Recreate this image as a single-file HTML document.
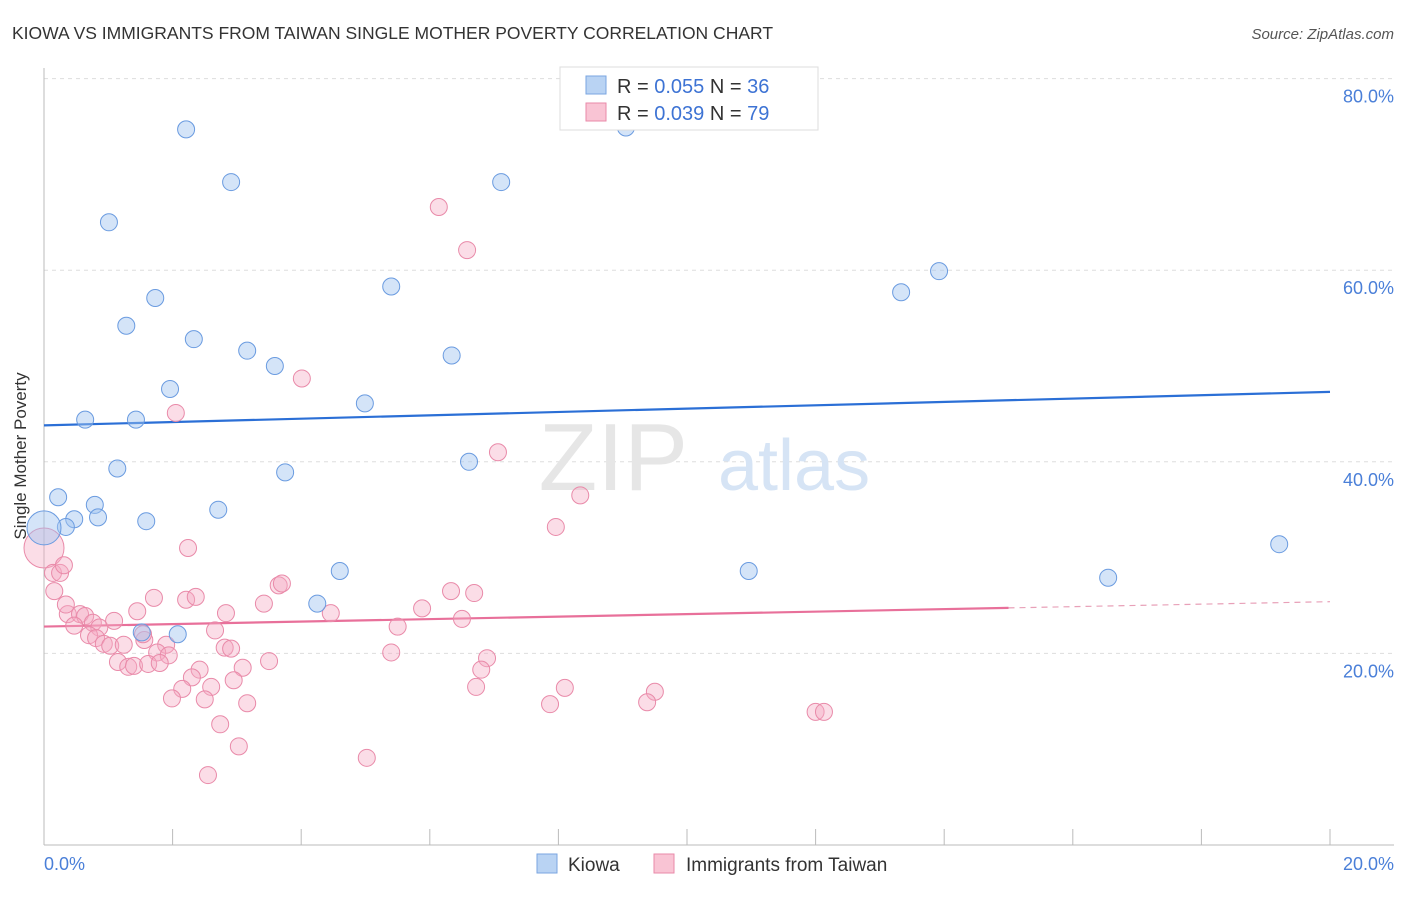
<!DOCTYPE html>
<html><head><meta charset="utf-8"><style>
body{margin:0;background:#fff;font-family:"Liberation Sans",sans-serif;}
svg text{font-family:"Liberation Sans",sans-serif;}
</style></head><body>
<svg width="1406" height="892" xmlns="http://www.w3.org/2000/svg">
<text x="12" y="39" font-size="17.5" fill="#333">KIOWA VS IMMIGRANTS FROM TAIWAN SINGLE MOTHER POVERTY CORRELATION CHART</text>
<text x="1394" y="39" font-size="15" fill="#555" font-style="italic" text-anchor="end">Source: ZipAtlas.com</text>
<g id="grid"></g>
<text x="688" y="490" font-size="96" fill="#e6e6e6" text-anchor="end" font-family="Liberation Serif">ZIP</text>
<text x="718" y="490" font-size="72" fill="#d6e4f5">atlas</text>
<g id="axes"></g>
<g id="trend"></g>
<g id="pts"></g>
<text x="26" y="456" font-size="17" fill="#333" text-anchor="middle" transform="rotate(-90 26 456)">Single Mother Poverty</text>
<text x="44" y="870" font-size="18" fill="#4a7fd8">0.0%</text>
<text x="1394" y="870" font-size="18" fill="#4a7fd8" text-anchor="end">20.0%</text>
<g>
<rect x="560" y="67" width="258" height="63" fill="#fff" stroke="#ddd"/>
<rect x="586" y="76" width="20" height="18" fill="#b9d3f3" stroke="#7aa6e0"/>
<rect x="586" y="103" width="20" height="18" fill="#f9c4d4" stroke="#e98aa9"/>
<text x="617" y="93" font-size="20" fill="#333">R = <tspan fill="#3d73d4">0.055</tspan>   N = <tspan fill="#3d73d4">36</tspan></text>
<text x="617" y="120" font-size="20" fill="#333">R = <tspan fill="#3d73d4">0.039</tspan>   N = <tspan fill="#3d73d4">79</tspan></text>
</g>
<g>
<rect x="537" y="854" width="20" height="19" fill="#b9d3f3" stroke="#7aa6e0"/>
<text x="568" y="871" font-size="19" fill="#333">Kiowa</text>
<rect x="654" y="854" width="20" height="19" fill="#f9c4d4" stroke="#e98aa9"/>
<text x="686" y="871" font-size="19" fill="#333">Immigrants from Taiwan</text>
</g>
</svg>
<script>
const yTicks=[20,40,60,80];
const yTickLabels=["20.0%","40.0%","60.0%","80.0%"];
const xTicks=[2,4,6,8,10,12,14,16,18,20];
const kiowaX=[2.21,2.91,1.01,1.73,1.28,2.33,3.16,3.59,1.96,0.64,1.43,4.99,5.40,6.34,7.11,9.05,6.61,3.75,1.14,0.22,0.79,0.84,0.47,0.34,1.59,2.71,0,4.60,4.25,2.08,1.52,10.96,13.33,13.92,16.55,19.21];
const kiowaY=[74.7,69.2,65.0,57.1,54.2,52.8,51.6,50.0,47.6,44.4,44.4,46.1,58.3,51.1,69.2,74.9,40.0,38.9,39.3,36.3,35.5,34.2,34.0,33.2,33.8,35.0,33.1,28.6,25.2,22.0,22.2,28.6,57.7,59.9,27.9,31.4];
const taiwanX=[6.14,6.58,4.01,2.05,7.06,8.34,7.96,2.24,0,0.14,0.25,0.31,0.16,3.65,3.42,1.71,2.21,2.36,6.33,6.69,5.88,4.46,6.50,5.50,2.83,1.45,0.37,0.56,0.64,0.47,0.76,0.86,1.09,0.70,0.81,0.93,1.03,1.24,1.56,1.90,1.76,1.94,2.66,2.81,2.91,5.40,6.89,1.15,1.31,1.40,1.62,1.80,2.42,3.09,3.50,6.80,2.30,2.95,2.15,2.60,6.72,8.10,9.50,1.99,2.50,3.16,7.87,9.38,12.0,12.13,2.74,3.03,5.02,2.55,0.34,1.54,3.70];
const taiwanY=[66.6,62.1,48.7,45.1,41.0,36.5,33.2,31.0,31.0,28.4,28.4,29.2,26.5,27.1,25.2,25.8,25.6,25.9,26.5,26.3,24.7,24.2,23.6,22.8,24.2,24.4,24.1,24.1,23.9,22.9,23.2,22.7,23.4,21.9,21.6,21.0,20.8,20.9,21.4,20.9,20.1,19.8,22.4,20.6,20.5,20.1,19.5,19.1,18.6,18.7,18.9,19.0,18.3,18.5,19.2,18.3,17.5,17.2,16.3,16.5,16.5,16.4,16.0,15.3,15.2,14.8,14.7,14.9,13.9,13.9,12.6,10.3,9.1,7.3,25.1,22.0,27.3];
const kiowaTrend=[43.8,47.3];
const taiwanTrend=[22.8,25.4];
const taiwanSolidEnd=15.0;
const NS="http://www.w3.org/2000/svg";
const X=v=>44+v*64.3;
const Y=v=>845-v*9.58;
function mk(tag,attrs,parent){const e=document.createElementNS(NS,tag);for(const k in attrs)e.setAttribute(k,attrs[k]);parent.appendChild(e);return e;}
const grid=document.getElementById('grid'),axes=document.getElementById('axes'),trend=document.getElementById('trend'),pts=document.getElementById('pts');
yTicks.forEach((t,i)=>{
 const l=mk('line',{x1:44,x2:1394,y1:Y(t),y2:Y(t),stroke:'#ddd','stroke-dasharray':'4,4'},grid);
 
 
 const tx=mk('text',{x:1394,y:Y(t)+24,'font-size':18,fill:'#4a7fd8','text-anchor':'end'},axes);
 tx.textContent=yTickLabels[i];
 
 
});
const ax=mk('line',{x1:44,x2:1394,y1:845,y2:845,stroke:'#bbb'},axes);


const ay=mk('line',{x1:44,x2:44,y1:68,y2:845,stroke:'#bbb'},axes);


xTicks.forEach(t=>{
 const l=mk('line',{x1:X(t),x2:X(t),y1:829,y2:845,stroke:'#bbb'},axes);
 
 
});
const bt=mk('line',{x1:X(0),x2:X(20),y1:Y(kiowaTrend[0]),y2:Y(kiowaTrend[1]),stroke:'#2b6fd6','stroke-width':2.2},trend);


const pAt=x=>taiwanTrend[0]+(taiwanTrend[1]-taiwanTrend[0])*x/20;
const pt1=mk('line',{x1:X(0),x2:X(taiwanSolidEnd),y1:Y(pAt(0)),y2:Y(pAt(taiwanSolidEnd)),stroke:'#e8709a','stroke-width':2.2},trend);


const pt2=mk('line',{x1:X(taiwanSolidEnd),x2:X(20),y1:Y(pAt(taiwanSolidEnd)),y2:Y(pAt(20)),stroke:'#e8a0b8','stroke-width':1.2,'stroke-dasharray':'6,5'},trend);


taiwanX.forEach((x,i)=>{
 const c=mk('circle',{cx:X(x),cy:Y(taiwanY[i]),r:(x===0?20:8.5),fill:'rgba(246,170,196,0.4)',stroke:'#e98aa9','stroke-width':1},pts);
 
 
});
kiowaX.forEach((x,i)=>{
 const c=mk('circle',{cx:X(x),cy:Y(kiowaY[i]),r:(x===0?17:8.5),fill:'rgba(160,196,240,0.45)',stroke:'#6a9be0','stroke-width':1},pts);
 
 
});
</script>
</body></html>
